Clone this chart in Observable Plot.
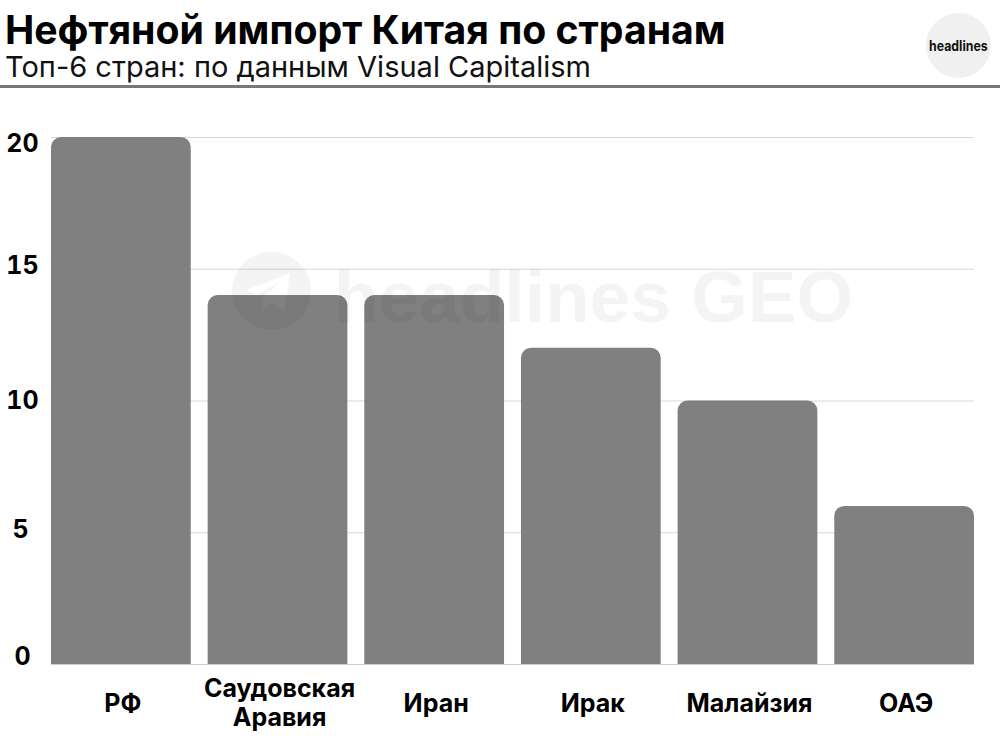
<!DOCTYPE html>
<html lang="ru">
<head>
<meta charset="utf-8">
<script src="https://cdn.jsdelivr.net/npm/d3@7"></script>
<script src="https://cdn.jsdelivr.net/npm/@observablehq/plot@0.6"></script>
<style>
html,body{margin:0;padding:0;background:#fff;width:1000px;height:743px;overflow:hidden;font-family:Inter,sans-serif}
#wrap{position:relative;width:1000px;height:743px}
#head{position:absolute;left:0;top:0;width:1000px;height:85px;border-bottom:3px solid #777}
#title{position:absolute;left:5px;top:11px;font-size:39.2px;line-height:38px;font-weight:700;color:#000;white-space:nowrap}
#subtitle{position:absolute;left:5px;top:52px;font-size:29px;line-height:30px;font-weight:400;color:#111;white-space:nowrap}
#logo{position:absolute;left:926px;top:13px;width:65px;height:65px;border-radius:50%;background:#f0f0f0;display:flex;align-items:center;justify-content:center;color:#111}
#logo b{font-size:14px;font-weight:700;transform:scaleX(.88);white-space:nowrap}
#chart{position:absolute;left:0;top:88px}
#wm{position:absolute;left:232px;top:252px;display:flex;align-items:center;pointer-events:none;opacity:.04;color:#000}
#wm span{font-family:"Liberation Sans",sans-serif;font-size:73px;font-weight:700;margin-left:23px;line-height:78px;white-space:nowrap;position:relative;top:6px}
#wm svg{display:block;width:79px;height:78px}
</style>
</head>
<body>
<div id="wrap">
  <div id="head">
    <div id="title">Нефтяной импорт Китая по странам</div>
    <div id="subtitle">Топ-6 стран: по данным Visual Capitalism</div>
    <div id="logo"><b>headlines</b></div>
  </div>
  <div id="chart"></div>
  <div id="wm">
    <svg viewBox="0 0 79 78"><path fill-rule="evenodd" d="M39.5 0a39.5 39 0 1 0 .01 0ZM14 38 58 21 52 60 38 50 31 58 30 46 49 29 25 43Z"/></svg>
    <span>headlines GEO</span>
  </div>
</div>
<script>
const countries = ["РФ", "Саудовская\nАравия", "Иран", "Ирак", "Малайзия", "ОАЭ"];
const imports = [20, 14, 14, 12, 10, 6];
const gridValues = [5, 10, 15, 20];
const rows = countries.map((country, i) => ({country, value: imports[i]}));
const axisStyle = {tickSize: 0, fontSize: 25, fontWeight: 700, fill: "#000", label: null};
const chart = Plot.plot({
  width: 1000,
  height: 655,
  marginTop: 49,
  marginBottom: 79,
  marginLeft: 51,
  marginRight: 26,
  style: {fontFamily: "Inter, sans-serif", background: "transparent", overflow: "visible"},
  x: {domain: countries, paddingInner: 0.108, paddingOuter: 0, round: false, label: null},
  y: {domain: [0, 20], label: null},
  marks: [
    Plot.ruleY(gridValues, {stroke: "#d8d8d8", strokeWidth: 1}),
    Plot.ruleY([0], {stroke: "#ccc", strokeWidth: 1}),
    Plot.barY(rows, {x: "country", y: "value", fill: "#808080", rx1y1: 10, rx2y1: 10}),
    Plot.axisX({...axisStyle, lineAnchor: "middle", lineHeight: 1.16, tickPadding: 39, dx: 1.5, dy: -1}),
    Plot.axisY([20], {...axisStyle, textAnchor: "middle", tickPadding: 29, dy: 6}),
    Plot.axisY([15], {...axisStyle, textAnchor: "middle", tickPadding: 29, dy: -3}),
    Plot.axisY([10], {...axisStyle, textAnchor: "middle", tickPadding: 29}),
    Plot.axisY([5], {...axisStyle, textAnchor: "middle", tickPadding: 31, dy: -3}),
    Plot.axisY([0], {...axisStyle, textAnchor: "middle", tickPadding: 29, dy: -8})
  ]
});
document.getElementById("chart").appendChild(chart);
</script>
</body>
</html>
